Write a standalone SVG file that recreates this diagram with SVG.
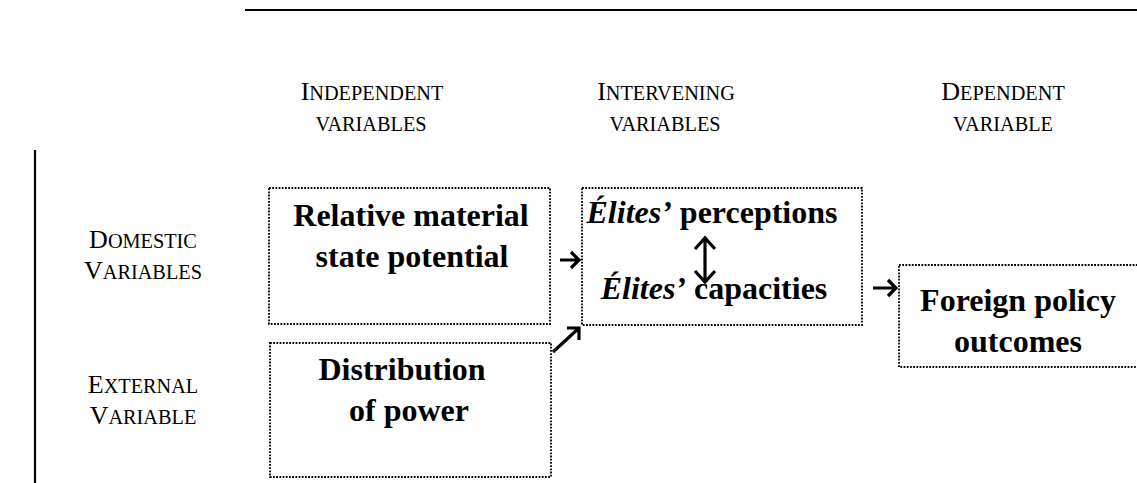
<svg xmlns="http://www.w3.org/2000/svg" width="1137" height="483" viewBox="0 0 1137 483">
<defs>
<style>
text{font-family:"Liberation Serif","Times New Roman",serif;fill:#000}
.hd{font-size:26px}
.sc{font-size:20.3px}
.nd{font-size:32px;font-weight:bold}
.it{font-style:italic}
.box{fill:none;stroke:#000;stroke-width:1.8;stroke-dasharray:1.8 1.4}
.rule{stroke:#000;stroke-width:2.2}
.arr{fill:none;stroke:#000;stroke-width:3.2;stroke-linecap:butt;stroke-linejoin:miter}
</style>
</defs>
<g id="frame">
<line class="rule" x1="245" y1="10" x2="1137" y2="10"/>
<line class="rule" x1="35" y1="150" x2="35" y2="483"/>
</g>
<g id="headers" text-anchor="middle">
<text class="hd" x="372" y="100">I<tspan class="sc">NDEPENDENT</tspan></text>
<text class="sc" x="371" y="131">VARIABLES</text>
<text class="hd" x="666" y="100">I<tspan class="sc">NTERVENING</tspan></text>
<text class="sc" x="665" y="131">VARIABLES</text>
<text class="hd" x="1003" y="100">D<tspan class="sc">EPENDENT</tspan></text>
<text class="sc" x="1003" y="131">VARIABLE</text>
<text class="hd" x="143" y="248">D<tspan class="sc">OMESTIC</tspan></text>
<text class="hd" x="143" y="279">V<tspan class="sc">ARIABLES</tspan></text>
<text class="hd" x="143" y="393">E<tspan class="sc">XTERNAL</tspan></text>
<text class="hd" x="143" y="424">V<tspan class="sc">ARIABLE</tspan></text>
</g>
<g id="node-material" text-anchor="middle">
<rect class="box" x="269" y="188" width="281" height="136"/>
<text class="nd" x="411" y="226">Relative material</text>
<text class="nd" x="412" y="267">state potential</text>
</g>
<g id="node-elites" text-anchor="middle">
<rect class="box" x="582" y="188" width="280" height="137"/>
<text class="nd" x="712" y="223"><tspan class="it">Élites’</tspan> perceptions</text>
<text class="nd" x="714" y="299"><tspan class="it">Élites’</tspan> capacities</text>
</g>
<g id="node-power" text-anchor="middle">
<rect class="box" x="270" y="343" width="281" height="134"/>
<text class="nd" x="402" y="380">Distribution</text>
<text class="nd" x="409" y="421">of power</text>
</g>
<g id="node-outcomes" text-anchor="middle">
<rect class="box" x="899" y="265" width="245" height="102"/>
<text class="nd" x="1018" y="311">Foreign policy</text>
<text class="nd" x="1018" y="352">outcomes</text>
</g>
<g id="connectors">
<path class="arr" d="M560 260 H579 M571 252 L579 260 L571 268"/>
<path class="arr" d="M553 352 L579 328 M567 328 H579 V340"/>
<path class="arr" d="M705 238 V282 M695 249 L705 238 L715 249 M695 271 L705 282 L715 271"/>
<path class="arr" d="M873 288 H896 M888 280 L896 288 L888 296"/>
</g>
</svg>
